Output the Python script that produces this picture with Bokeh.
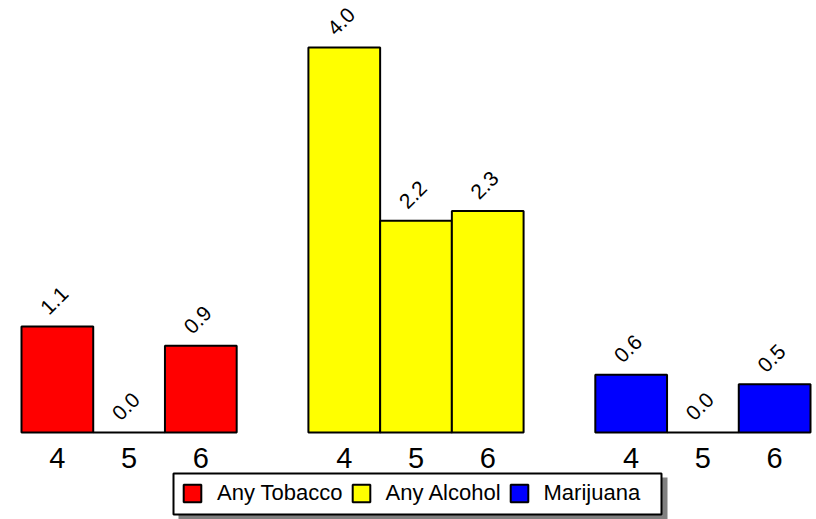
import math
from bokeh.plotting import figure
from bokeh.models import (ColumnDataSource, Range1d, Legend, LegendItem, BoxAnnotation)
from bokeh.core.properties import value
from bokeh.embed import file_html
from bokeh.resources import INLINE

# ---- data ----
categories = ["Any Tobacco", "Any Alcohol", "Marijuana"]
grades = ["4", "5", "6"]
tobacco = [1.1, 0.0, 0.9]
alcohol = [4.0, 2.2, 2.3]
marijuana = [0.6, 0.0, 0.5]
series = [tobacco, alcohol, marijuana]
colors = ["#FF0000", "#FFFF00", "#0000FF"]

FONT = "Liberation Sans"

p = figure(width=816, height=519, output_backend="svg", toolbar_location=None,
           x_range=Range1d(-0.2928, 11.0837), y_range=Range1d(-0.9039, 4.4883),
           x_axis_location=None, y_axis_location=None,
           min_border_left=0, min_border_right=0, min_border_top=0, min_border_bottom=0)
p.outline_line_color = None
p.xgrid.grid_line_color = None
p.ygrid.grid_line_color = None
p.background_fill_color = "white"
p.border_fill_color = "white"

# legend frame with drop shadow
shadow = BoxAnnotation(left=178, right=667, top=477, bottom=520,
                       left_units="canvas", right_units="canvas",
                       top_units="canvas", bottom_units="canvas",
                       fill_color="#808080", fill_alpha=1.0, line_color=None,
                       level="underlay")
box = BoxAnnotation(left=173, right=661, top=473, bottom=514,
                    left_units="canvas", right_units="canvas",
                    top_units="canvas", bottom_units="canvas",
                    fill_color="white", fill_alpha=1.0, line_color="black",
                    line_width=2, line_alpha=1.0, level="underlay")
p.add_layout(shadow)
p.add_layout(box)

items = []
for gi, (cat, vals, col) in enumerate(zip(categories, series, colors)):
    xs = [gi * 4 + j + 0.5 for j in range(len(grades))]
    src = ColumnDataSource(dict(x=xs, top=vals, lab=["%.1f" % v for v in vals],
                                grade=grades, zero=[0] * len(vals)))
    r = p.vbar(x="x", top="top", bottom=0, width=1.0, source=src,
               fill_color=col, line_color="black", line_width=2)
    p.text(x="x", y="top", text="lab", source=src, angle=math.pi / 4,
           text_align="center", text_baseline="middle", x_offset=-3, y_offset=-26,
           text_font=value(FONT), text_font_size="21px", text_color="black")
    p.text(x="x", y="zero", text="grade", source=src,
           text_align="center", text_baseline="middle", y_offset=26,
           text_font=value(FONT), text_font_size="29px", text_color="black")
    items.append(LegendItem(label=cat, renderers=[r]))

legend = Legend(items=items, orientation="horizontal", location=(181, 13),
                border_line_color=None, background_fill_alpha=0.0,
                label_text_font=FONT, label_text_font_size="22px",
                label_text_color="black", glyph_width=22, glyph_height=22,
                label_standoff=14, spacing=7, padding=10, margin=0)
p.add_layout(legend, "center")

open("out.html", "w").write(file_html(p, INLINE))
